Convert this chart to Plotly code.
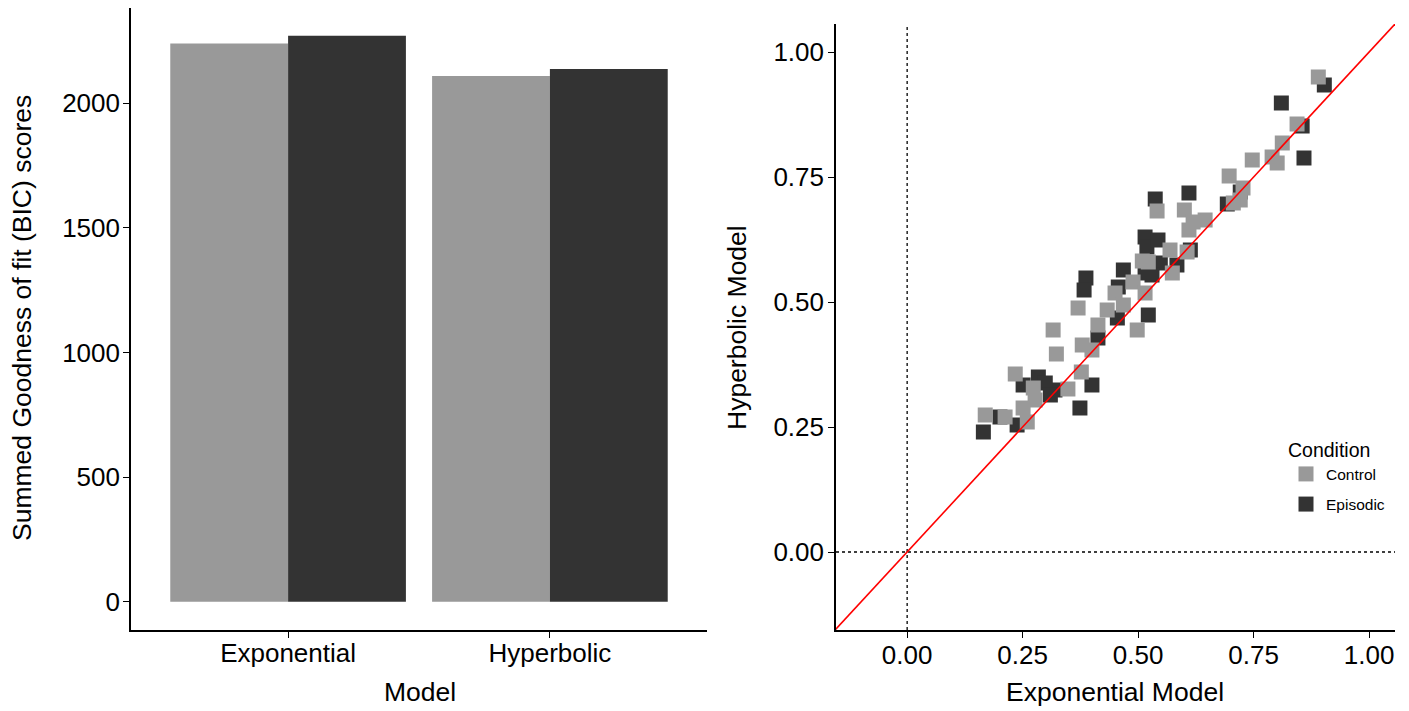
import plotly.graph_objects as go

# page has an 8px body margin, so the figure is drawn at (8, 8)
OFF = 8
W, H = 1409 - OFF, 711 - OFF

# ---- Bar chart data ----
models = ["Exponential", "Hyperbolic"]
bic_control = [2239, 2108]
bic_episodic = [2270, 2136]

# ---- Scatter data (Exponential vs Hyperbolic model) ----
control_exp = [0.890, 0.844, 0.812, 0.747, 0.790, 0.801, 0.697, 0.727, 0.721, 0.706,
               0.541, 0.600, 0.645, 0.619, 0.610, 0.569, 0.606, 0.509, 0.522, 0.574,
               0.489, 0.450, 0.515, 0.468, 0.370, 0.433, 0.413, 0.316, 0.498, 0.379,
               0.400, 0.323, 0.377, 0.234, 0.273, 0.348, 0.277, 0.251, 0.169, 0.212,
               0.260]
control_hyp = [0.950, 0.856, 0.818, 0.784, 0.790, 0.778, 0.752, 0.728, 0.704, 0.698,
               0.682, 0.684, 0.664, 0.660, 0.644, 0.604, 0.600, 0.582, 0.580, 0.558,
               0.540, 0.518, 0.518, 0.494, 0.488, 0.484, 0.454, 0.444, 0.444, 0.414,
               0.404, 0.396, 0.360, 0.356, 0.328, 0.326, 0.304, 0.288, 0.274, 0.270,
               0.260]
episodic_exp = [0.903, 0.810, 0.855, 0.859, 0.721, 0.610, 0.537, 0.693, 0.515, 0.519,
                0.613, 0.548, 0.584, 0.468, 0.530, 0.515, 0.387, 0.383, 0.457, 0.522,
                0.455, 0.413, 0.400, 0.284, 0.251, 0.320, 0.374, 0.201, 0.238, 0.165,
                0.299, 0.310, 0.543]
episodic_hyp = [0.934, 0.898, 0.852, 0.788, 0.720, 0.718, 0.706, 0.696, 0.630, 0.610,
                0.604, 0.578, 0.574, 0.564, 0.554, 0.558, 0.548, 0.524, 0.530, 0.474,
                0.468, 0.428, 0.334, 0.350, 0.334, 0.324, 0.288, 0.270, 0.254, 0.240,
                0.338, 0.314, 0.624]

ref_slope = 1.0
ref_x = [-0.3, 1.2]

C_CONTROL = "#999999"
C_EPISODIC = "#333333"
FONT = "Liberation Sans, Arial, sans-serif"
TICK_SIZE = 26
TITLE_SIZE = 26.5


def px(x):
    return (x - OFF) / W


def py(y):
    return 1 - (y - OFF) / H


fig = go.Figure()

fig.add_trace(go.Bar(x=models, y=bic_control, name="Control", marker_color=C_CONTROL,
                     marker_line_width=0, showlegend=False, xaxis="x", yaxis="y"))
fig.add_trace(go.Bar(x=models, y=bic_episodic, name="Episodic", marker_color=C_EPISODIC,
                     marker_line_width=0, showlegend=False, xaxis="x", yaxis="y"))

fig.add_trace(go.Scatter(x=episodic_exp, y=episodic_hyp, mode="markers", name="Episodic",
                         marker=dict(symbol="square", size=15, color=C_EPISODIC, line_width=0),
                         legendrank=2, legendgroup="ep", xaxis="x2", yaxis="y2"))
fig.add_trace(go.Scatter(x=control_exp, y=control_hyp, mode="markers", name="Control",
                         marker=dict(symbol="square", size=15, color=C_CONTROL, line_width=0),
                         legendrank=1, legendgroup="co", xaxis="x2", yaxis="y2"))
fig.add_trace(go.Scatter(x=ref_x, y=[ref_slope * v for v in ref_x], mode="lines",
                         line=dict(color="red", width=1.6), showlegend=False,
                         hoverinfo="skip", xaxis="x2", yaxis="y2"))

axis_common = dict(showline=True, linecolor="black", linewidth=1.6, ticks="outside",
                   ticklen=6, tickwidth=1.3, tickcolor="black", showgrid=False,
                   zeroline=False, tickfont=dict(family=FONT, size=TICK_SIZE, color="black"))

fig.update_layout(
    width=W, height=H,
    margin=dict(l=0, r=0, t=0, b=0),
    paper_bgcolor="white", plot_bgcolor="white",
    barmode="group", bargap=0.1, bargroupgap=0,
    xaxis=dict(domain=[px(131), px(707)], range=[-0.6, 1.6], anchor="y",
               ticklabelstandoff=-7, **axis_common),
    yaxis=dict(domain=[py(630), py(8)], range=[-113, 2381], anchor="x",
               tickvals=[0, 500, 1000, 1500, 2000], ticklabelstandoff=-2, **axis_common),
    xaxis2=dict(domain=[px(836), px(1395)], range=[-0.154, 1.056], anchor="y2",
                tickvals=[0, 0.25, 0.5, 0.75, 1.0], tickformat=".2f",
                ticklabelstandoff=-5, **axis_common),
    yaxis2=dict(domain=[py(630), py(24)], range=[-0.156, 1.056], anchor="x2",
                tickvals=[0, 0.25, 0.5, 0.75, 1.0], tickformat=".2f",
                ticklabelstandoff=-1, **axis_common),
    legend=dict(x=px(1286), y=py(432), xanchor="left", yanchor="top",
                title=dict(text="Condition", font=dict(family=FONT, size=19.5, color="black")),
                font=dict(family=FONT, size=15.5, color="black"),
                tracegroupgap=7, bgcolor="rgba(0,0,0,0)"),
    showlegend=True,
    annotations=[
        dict(text="Model", x=px(420), y=py(692), xref="paper", yref="paper",
             showarrow=False, font=dict(family=FONT, size=TITLE_SIZE, color="black"),
             xanchor="center", yanchor="middle"),
        dict(text="Summed Goodness of fit (BIC) scores", x=px(22), y=py(318),
             xref="paper", yref="paper", textangle=-90, showarrow=False,
             font=dict(family=FONT, size=TITLE_SIZE, color="black"),
             xanchor="center", yanchor="middle"),
        dict(text="Exponential Model", x=px(1115), y=py(692), xref="paper", yref="paper",
             showarrow=False, font=dict(family=FONT, size=TITLE_SIZE, color="black"),
             xanchor="center", yanchor="middle"),
        dict(text="Hyperbolic Model", x=px(737), y=py(328), xref="paper", yref="paper",
             textangle=-90, showarrow=False,
             font=dict(family=FONT, size=TITLE_SIZE, color="black"),
             xanchor="center", yanchor="middle"),
    ],
    shapes=[
        dict(type="line", xref="x2", yref="y2 domain", x0=0, x1=0, y0=0, y1=1,
             line=dict(color="black", width=1.3, dash="dot"), layer="below"),
        dict(type="line", xref="x2 domain", yref="y2", x0=0, x1=1, y0=0, y1=0,
             line=dict(color="black", width=1.3, dash="dot"), layer="below"),
    ],
)

fig.write_html("out.html")
